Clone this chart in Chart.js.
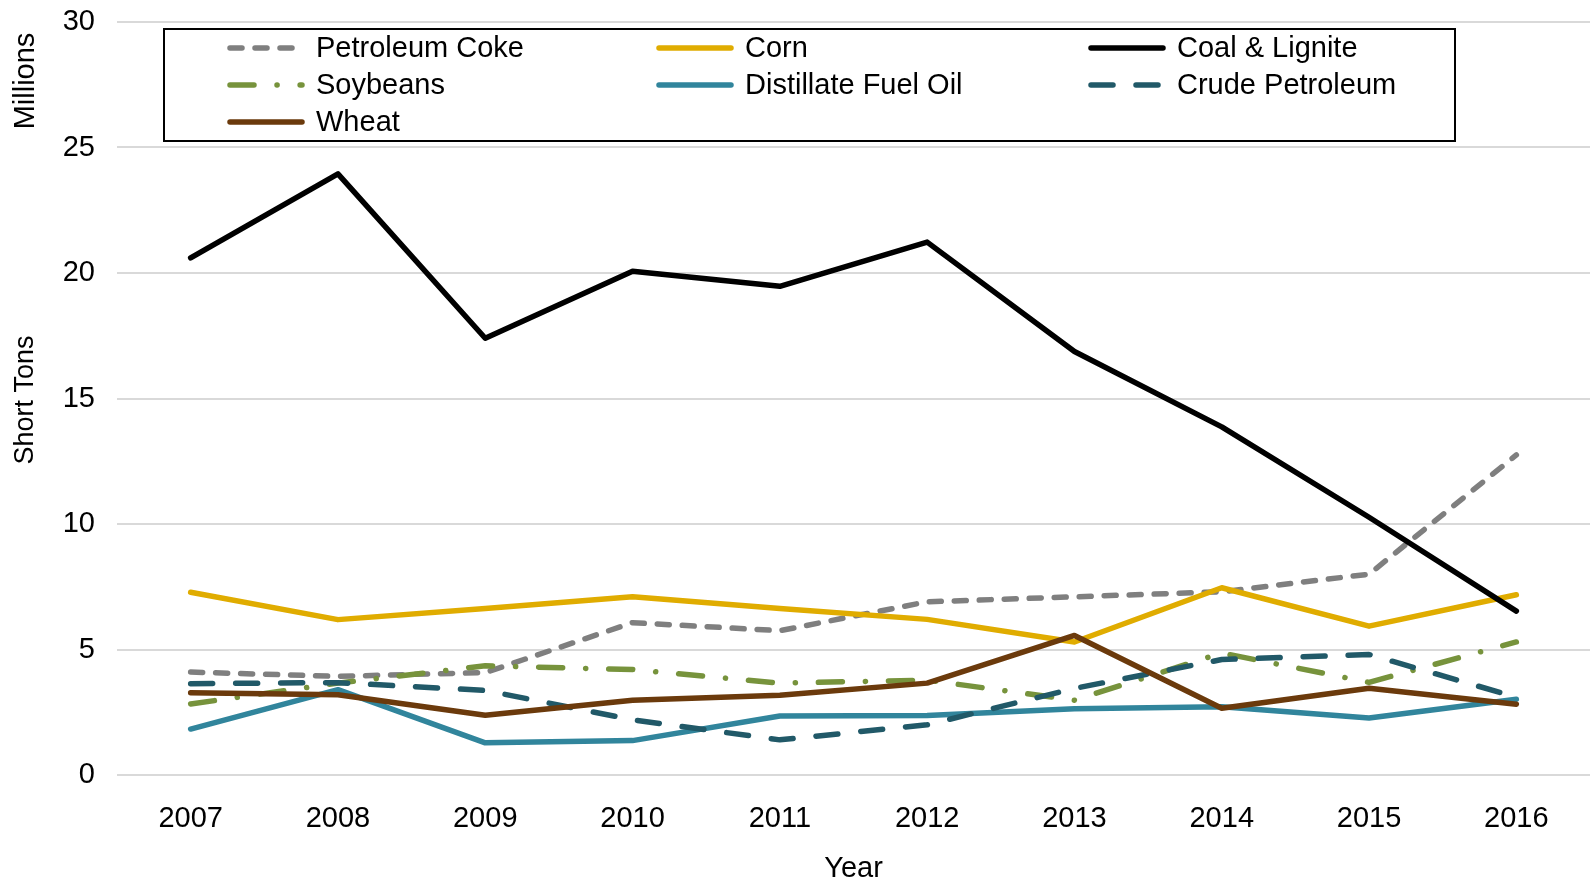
<!DOCTYPE html>
<html>
<head>
<meta charset="utf-8">
<script src="https://cdn.jsdelivr.net/npm/chart.js"></script>
<style>
  body { margin: 0; background: #fff; }
</style>
</head>
<body>
<canvas id="line-chart" width="1590" height="882"></canvas>
<script>
var years = ['2007', '2008', '2009', '2010', '2011', '2012', '2013', '2014', '2015', '2016'];
var yTicks = [0, 5, 10, 15, 20, 25, 30];

var petroleumCoke = [4.1, 3.93, 4.08, 6.07, 5.75, 6.9, 7.1, 7.3, 8.0, 12.75];
var corn = [7.28, 6.19, 6.63, 7.1, 6.63, 6.2, 5.3, 7.46, 5.93, 7.18];
var coalLignite = [20.6, 23.95, 17.4, 20.07, 19.47, 21.23, 16.87, 13.87, 10.27, 6.53];
var soybeans = [2.83, 3.66, 4.35, 4.2, 3.66, 3.78, 2.98, 4.86, 3.69, 5.3];
var distillateFuelOil = [1.83, 3.4, 1.28, 1.37, 2.35, 2.37, 2.64, 2.72, 2.27, 3.02];
var crudePetroleum = [3.64, 3.68, 3.37, 2.2, 1.4, 2.0, 3.45, 4.6, 4.8, 3.1];
var wheat = [3.28, 3.2, 2.38, 2.98, 3.18, 3.66, 5.56, 2.66, 3.46, 2.82];

var seriesNames = ['Petroleum Coke', 'Corn', 'Coal & Lignite', 'Soybeans', 'Distillate Fuel Oil', 'Crude Petroleum', 'Wheat'];
var seriesData = [petroleumCoke, corn, coalLignite, soybeans, distillateFuelOil, crudePetroleum, wheat];
var seriesColors = ['#7f7f7f', '#e0ac00', '#000000', '#77933c', '#31859c', '#215968', '#6b3a0c'];
var seriesDash = [[12, 13], [], [], [24, 23, 0.1, 23], [], [22, 23], []];

var font = '"Liberation Sans", Arial, sans-serif';

// legend box + axis titles drawn by hand, Excel style
var extras = {
    id: 'extras',
    afterDraw: function (chart) {
        var ctx = chart.ctx;
        ctx.save();

        ctx.fillStyle = '#fff';
        ctx.fillRect(164, 29, 1291, 112);
        ctx.strokeStyle = '#000';
        ctx.lineWidth = 2;
        ctx.strokeRect(164, 29, 1291, 112);

        var colX = [228, 657, 1089];
        var rowY = [48, 85, 122];
        ctx.font = '29px ' + font;
        ctx.textBaseline = 'middle';
        ctx.lineCap = 'round';
        for (let i = 0; i < seriesNames.length; i++) {
            let x = colX[i % 3];
            let y = rowY[Math.floor(i / 3)];
            ctx.strokeStyle = seriesColors[i];
            ctx.lineWidth = 5.5;
            ctx.setLineDash(seriesDash[i]);
            ctx.beginPath();
            ctx.moveTo(x + 2, y);
            ctx.lineTo(x + 74, y);
            ctx.stroke();
            ctx.setLineDash([]);
            ctx.fillStyle = '#000';
            ctx.textAlign = 'left';
            ctx.fillText(seriesNames[i], x + 88, y + 1);
        }

        ctx.fillStyle = '#000';
        ctx.textAlign = 'center';
        ctx.font = '29px ' + font;
        ctx.fillText('Year', (chart.chartArea.left + chart.chartArea.right) / 2, 869);

        ctx.translate(26, 400);
        ctx.rotate(-Math.PI / 2);
        ctx.font = '27px ' + font;
        ctx.fillText('Short Tons', 0, 0);
        ctx.rotate(Math.PI / 2);
        ctx.translate(0, -319);
        ctx.rotate(-Math.PI / 2);
        ctx.font = '29px ' + font;
        ctx.fillText('Millions', 0, 0);
        ctx.restore();
    }
};

function createLineChart() {
    let datasets = [];
    for (let i = 0; i < seriesNames.length; i++) {
        datasets.push({
            label: seriesNames[i],
            data: seriesData[i],
            borderColor: seriesColors[i],
            backgroundColor: seriesColors[i],
            borderWidth: 5.5,
            borderDash: seriesDash[i],
            borderCapStyle: 'round',
            borderJoinStyle: 'round',
            pointRadius: 0,
            tension: 0,
            fill: false,
            order: seriesNames.length - i
        });
    }

    let lineChart = new Chart('line-chart', {
        type: 'line',
        data: {
            labels: years,
            datasets: datasets
        },
        options: {
            responsive: false,
            animation: false,
            devicePixelRatio: 1,
            layout: { padding: { top: 22, right: 0, left: 0, bottom: 0 } },
            plugins: {
                legend: { display: false },
                tooltip: { enabled: false }
            },
            scales: {
                x: {
                    offset: true,
                    grid: { display: false },
                    border: { display: false },
                    ticks: {
                        color: '#000',
                        font: { family: font, size: 29 },
                        padding: 19,
                        maxRotation: 0
                    },
                    afterFit: function (scale) {
                        scale.height = 107;
                        scale.paddingLeft = 0;
                        scale.paddingRight = 0;
                    }
                },
                y: {
                    min: yTicks[0],
                    max: yTicks[yTicks.length - 1],
                    afterBuildTicks: function (scale) {
                        scale.ticks = yTicks.map(v => ({ value: v }));
                    },
                    grid: { color: '#d9d9d9', lineWidth: 2, drawTicks: false },
                    border: { display: false },
                    ticks: {
                        color: '#000',
                        font: { family: font, size: 29 },
                        padding: 22
                    },
                    afterFit: function (scale) {
                        scale.width = 117;
                        scale.paddingTop = 0;
                        scale.paddingBottom = 0;
                    }
                }
            }
        },
        plugins: [extras]
    });
}

createLineChart();
</script>
</body>
</html>
